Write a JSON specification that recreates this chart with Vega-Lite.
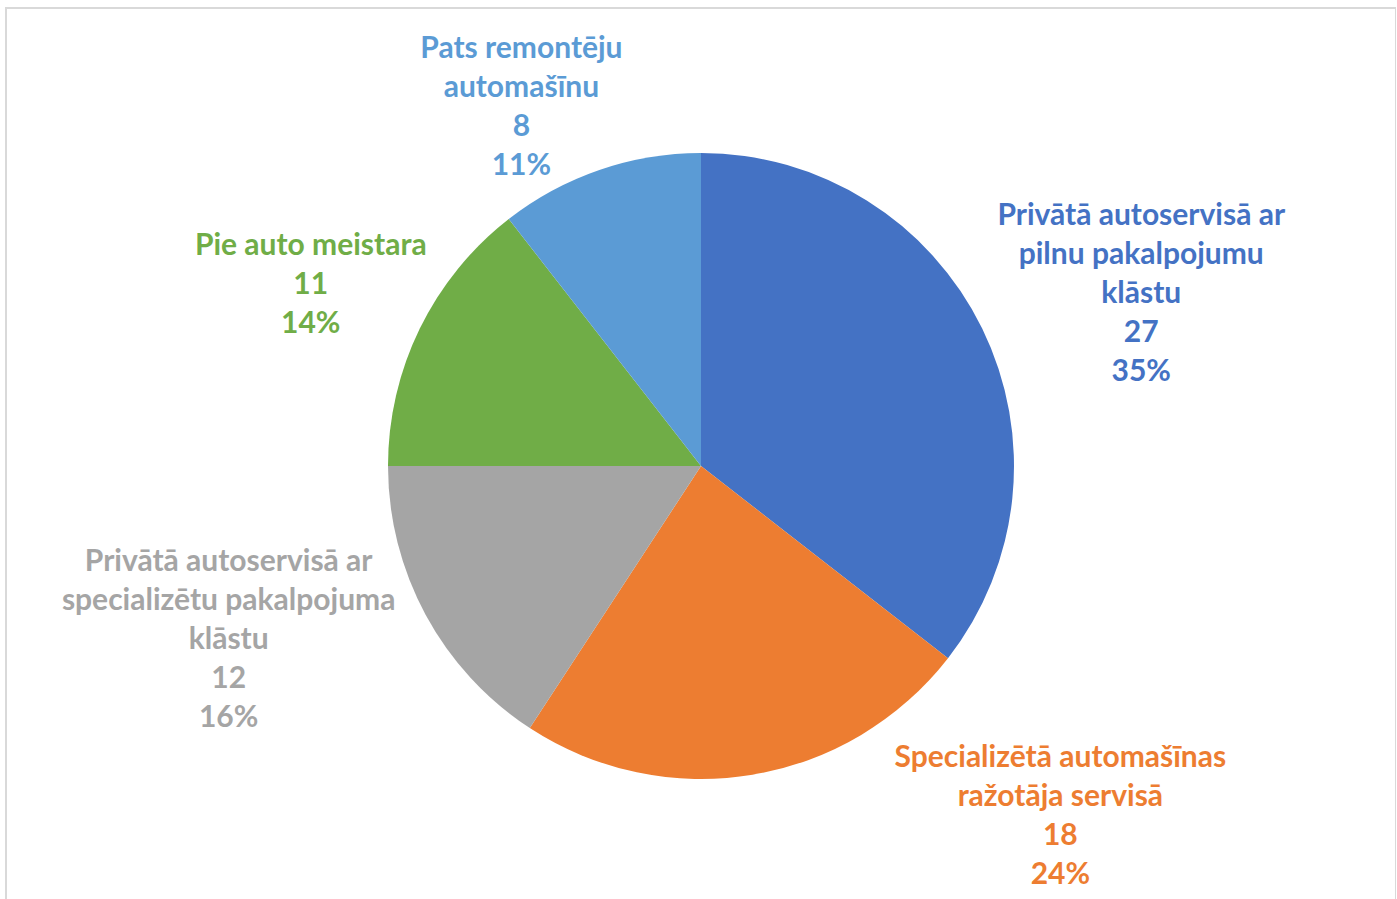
{
  "$schema": "https://vega.github.io/schema/vega-lite/v6.json",
  "width": 1390,
  "height": 916,
  "autosize": {"type": "none"},
  "padding": {"left": 6, "top": 8, "right": 0, "bottom": 0},
  "background": "white",
  "view": {"stroke": "#d9d9d9", "strokeWidth": 2},
  "data": {
    "values": [
      {"key": "a", "category": "Privātā autoservisā ar\npilnu pakalpojumu\nklāstu", "value": 27, "pct": "35%", "order": 1},
      {"key": "b", "category": "Specializētā automašīnas\nražotāja servisā", "value": 18, "pct": "24%", "order": 2},
      {"key": "c", "category": "Privātā autoservisā ar\nspecializētu pakalpojuma\nklāstu", "value": 12, "pct": "16%", "order": 3},
      {"key": "d", "category": "Pie auto meistara", "value": 11, "pct": "14%", "order": 4},
      {"key": "e", "category": "Pats remontēju\nautomašīnu", "value": 8, "pct": "11%", "order": 5}
    ]
  },
  "encoding": {
    "theta": {"field": "value", "type": "quantitative", "stack": true},
    "order": {"field": "order", "type": "quantitative"},
    "color": {
      "field": "key",
      "type": "nominal",
      "scale": {"domain": ["a", "b", "c", "d", "e"], "range": ["#4472C4", "#ED7D31", "#A5A5A5", "#70AD47", "#5B9BD5"]},
      "legend": null
    }
  },
  "layer": [
    {"mark": {"type": "arc", "outerRadius": 313}},
    {
      "transform": [{"calculate": "datum.category + '\\n' + datum.value + '\\n' + datum.pct", "as": "lbl"}],
      "mark": {
        "type": "text",
        "radius": 470,
        "lineBreak": "\n",
        "font": "Lato",
        "fontWeight": "bold",
        "fontSize": 30,
        "lineHeight": 39,
        "align": "center",
        "baseline": "middle",
        "dx": {"expr": "datum.key == 'a' ? 18 : datum.key == 'b' ? 282 : datum.key == 'c' ? -59 : datum.key == 'd' ? 32 : -27"},
        "dy": {"expr": "datum.key == 'a' ? -44 : datum.key == 'b' ? -172 : datum.key == 'c' ? -128 : datum.key == 'd' ? -14 : 28"}
      },
      "encoding": {"text": {"field": "lbl", "type": "nominal"}}
    }
  ]
}
